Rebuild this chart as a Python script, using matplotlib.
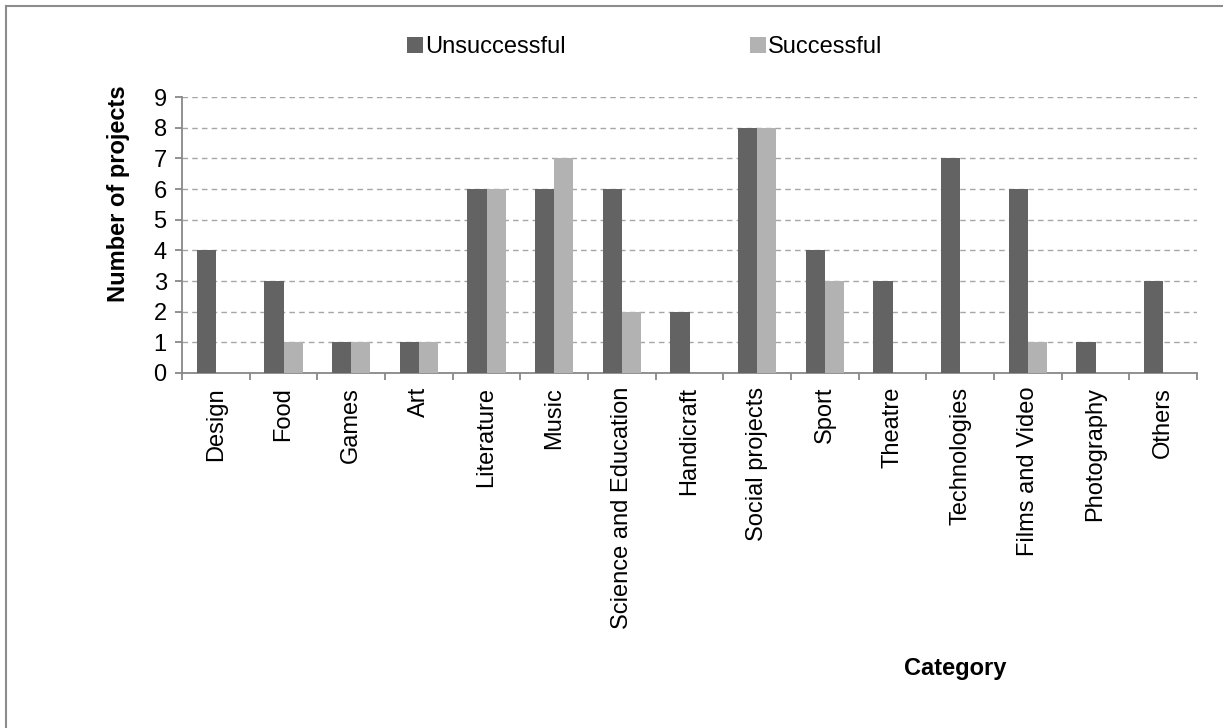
import numpy as np
import matplotlib
matplotlib.use('Agg')
import matplotlib.pyplot as plt
from matplotlib.lines import Line2D
from matplotlib.ticker import FixedLocator

plt.rcParams['font.family'] = ['Liberation Sans', 'DejaVu Sans']

# --- DATA ---
categories = ['Design', 'Food', 'Games', 'Art', 'Literature', 'Music',
              'Science and Education', 'Handicraft', 'Social projects', 'Sport',
              'Theatre', 'Technologies', 'Films and Video', 'Photography', 'Others']
unsuccessful = [4, 3, 1, 1, 6, 6, 6, 2, 8, 4, 3, 7, 6, 1, 3]
successful = [0, 1, 1, 1, 6, 7, 2, 0, 8, 3, 0, 0, 1, 0, 0]
series_names = ['Unsuccessful', 'Successful']

DARK = '#636363'
LIGHT = '#b2b2b2'
AXIS = '#888888'
FS = 17

fig = plt.figure(figsize=(12.23, 7.28), dpi=100)
ax = fig.add_axes([182 / 1223, 1 - 373 / 728, (1197 - 182) / 1223, (373 - 97) / 728])

x = np.arange(len(categories))
w = 0.283
ax.bar(x - w / 2, unsuccessful, w, color=DARK, label=series_names[0], zorder=3)
ax.bar(x + w / 2, successful, w, color=LIGHT, label=series_names[1], zorder=3)

ax.set_xlim(-0.5, len(categories) - 0.5)
ax.set_ylim(0, 9)
ax.set_yticks(range(0, 10))
ax.yaxis.grid(True, linestyle=(0, (4, 3)), color='#a6a6a6', linewidth=1, zorder=0)

# category labels at centres, tick marks at boundaries
ax.set_xticks(x)
ax.set_xticklabels(categories, rotation=90, fontsize=FS)
ax.xaxis.set_minor_locator(FixedLocator(np.arange(-0.5, len(categories), 1)))
ax.tick_params(axis='x', which='major', length=0, pad=10)
ax.tick_params(axis='x', which='minor', length=5, color=AXIS, width=1.3)
ax.tick_params(axis='y', length=5, color=AXIS, width=1.3, labelsize=FS, pad=6)

for s in ['top', 'right']:
    ax.spines[s].set_visible(False)
for s in ['left', 'bottom']:
    ax.spines[s].set_color(AXIS)
    ax.spines[s].set_linewidth(1.3)

fig.text(118 / 1223, 1 - 194 / 728, 'Number of projects', rotation=90,
         fontsize=FS, fontweight='bold', ha='center', va='center')
fig.text(955 / 1223, 1 - 668 / 728, 'Category', fontsize=FS,
         fontweight='bold', ha='center', va='center')

fig.legend(loc='center', bbox_to_anchor=(645 / 1223, 1 - 47 / 728), ncol=2,
           frameon=False, fontsize=FS, handlelength=0.65, handleheight=0.65,
           handletextpad=0.12, columnspacing=7.8)

# outer frame (top and left edges visible)
fig.add_artist(Line2D([6 / 1223, 1.01], [1 - 6 / 728, 1 - 6 / 728],
                      transform=fig.transFigure, color='#8c8c8c', linewidth=1.5))
fig.add_artist(Line2D([6 / 1223, 6 / 1223], [-0.01, 1 - 6 / 728],
                      transform=fig.transFigure, color='#8c8c8c', linewidth=1.5))

fig.savefig('out.png', dpi=100, facecolor='white')
